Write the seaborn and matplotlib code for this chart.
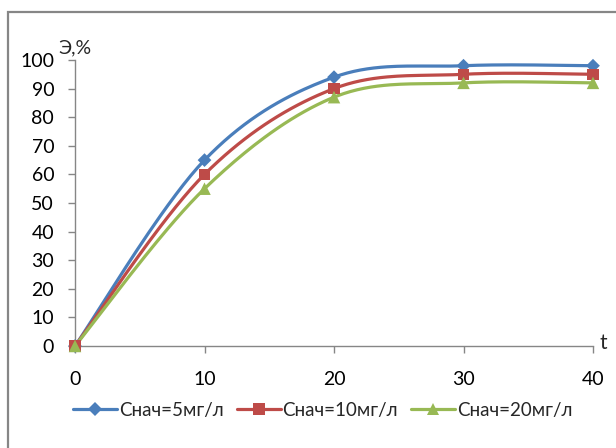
import numpy as np
import pandas as pd
import matplotlib
matplotlib.use("Agg")
import matplotlib.pyplot as plt
import seaborn as sns
from matplotlib.patches import Rectangle
from matplotlib.lines import Line2D

# Données
t_values = [0, 10, 20, 30, 40]
e_5 = [0, 65, 94, 98, 98]
e_10 = [0, 60, 90, 95, 95]
e_20 = [0, 55, 87, 92, 92]
series_names = ["Снач=5мг/л", "Снач=10мг/л", "Снач=20мг/л"]
colors = ["#4A7EBB", "#BE4B48", "#98B954"]
markers = ["D", "s", "^"]
msizes = [7, 8, 9]


def smooth(x, y, n=40):
    # lissage type Excel (Bezier / Catmull-Rom)
    p = np.column_stack([x, y]).astype(float)
    pts = np.vstack([p[0], p, p[-1]])
    out = []
    for i in range(1, len(pts) - 2):
        p0, p1, p2, p3 = pts[i - 1], pts[i], pts[i + 1], pts[i + 2]
        c1 = p1 + (p2 - p0) / 6
        c2 = p2 - (p3 - p1) / 6
        s = np.linspace(0, 1, n)[:, None]
        seg = (1 - s) ** 3 * p1 + 3 * (1 - s) ** 2 * s * c1 + 3 * (1 - s) * s ** 2 * c2 + s ** 3 * p2
        out.append(seg)
    out = np.vstack(out)
    return out[:, 0], out[:, 1]


sns.set_style("white")
plt.rcParams["font.family"] = ["Lato", "DejaVu Sans"]

fig = plt.figure(figsize=(6.16, 4.48), dpi=100)
ax = fig.add_axes([75 / 616, 1 - 346 / 448, (593 - 75) / 616, (346 - 60) / 448])

frame = Rectangle((8 / 616, -0.1), 1.2, 1 - 12 / 448 + 0.1, transform=fig.transFigure,
                  fill=False, edgecolor="#868686", linewidth=1.6, clip_on=False)
fig.patches.append(frame)

for vals, name, c, m, ms in zip([e_5, e_10, e_20], series_names, colors, markers, msizes):
    sx, sy = smooth(t_values, vals)
    df = pd.DataFrame({"t": sx, "e": sy})
    sns.lineplot(data=df, x="t", y="e", ax=ax, color=c, linewidth=2.3, sort=False,
                 estimator=None, zorder=3)
    pts = pd.DataFrame({"t": t_values, "e": vals})
    sns.scatterplot(data=pts, x="t", y="e", ax=ax, color=c, marker=m, s=ms ** 2,
                    edgecolor="none", zorder=4, clip_on=False)

ax.set_xlim(0, 40)
ax.set_ylim(0, 100)
ax.set_xticks(t_values)
ax.set_yticks(range(0, 101, 10))
ax.set_xlabel("")
ax.set_ylabel("")
for side in ["top", "right"]:
    ax.spines[side].set_visible(False)
for side in ["left", "bottom"]:
    ax.spines[side].set_color("#868686")
    ax.spines[side].set_linewidth(1.0)
ax.tick_params(axis="both", direction="out", length=5, width=1.0, color="#868686",
               labelsize=14, labelcolor="black", left=True, bottom=True)
ax.tick_params(axis="x", pad=13)
ax.tick_params(axis="y", pad=10)

fig.text(58 / 616, 1 - 56 / 448, "Э,%", fontsize=14, ha="left", va="bottom")
fig.text(600 / 616, 1 - 343 / 448, "t", fontsize=15, ha="left", va="center")

handles = [Line2D([], [], color=c, marker=m, markersize=ms, linewidth=2.3, markeredgewidth=0)
           for c, m, ms in zip(colors, markers, msizes)]
fig.legend(handles, series_names, loc="center", bbox_to_anchor=(0.524, 1 - 410 / 448),
           ncol=3, frameon=False, fontsize=13.5, handlelength=2.35, handletextpad=0.1,
           columnspacing=0.7)

fig.savefig("out.png", dpi=100)
